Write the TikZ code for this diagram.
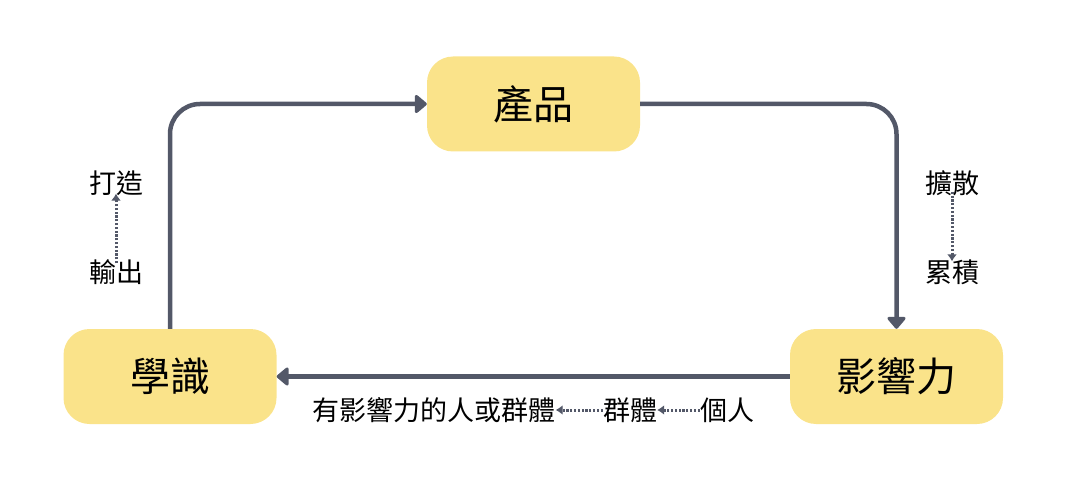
\documentclass[tikz,border=0pt]{standalone}
\usepackage{fontspec}
\newfontfamily\cjk{Noto Sans CJK TC}
\usetikzlibrary{arrows.meta}
\definecolor{boxfill}{HTML}{FAE38A}
\definecolor{linecol}{HTML}{535868}
\tikzset{
  box/.style={fill=boxfill, rounded corners=26pt, minimum width=213pt, minimum height=95pt, inner sep=0pt, font=\cjk\fontsize{40}{42}\selectfont, text=black},
  lab/.style={inner sep=0pt, font=\cjk\fontsize{27}{29}\selectfont, text=black},
  mainarrow/.style={draw=linecol, line width=4.5pt, rounded corners=30pt, -{Triangle[length=13pt,width=21pt,round]}},
  dotarrow/.style={draw=linecol, line width=3pt, dash pattern=on 2.2pt off 1.6pt, -{Latex[length=7pt,width=10pt]}}
}
\begin{document}
\begin{tikzpicture}[x=1pt,y=-1pt]
\useasboundingbox (0,0) rectangle (1066,492);
\node[box] (prod) at (533.5,104) {產品};
\node[box] (know) at (170,376.5) {學識};
\node[box] (infl) at (896.5,376.5) {影響力};

\draw[mainarrow] (know.north) |- (prod.west);
\draw[mainarrow] (prod.east) -| (infl.north);
\draw[mainarrow, rounded corners=0pt] (infl.west) -- (know.east);

\node[lab] (make) at (116,183) {打造};
\node[lab] (out) at (116,272) {輸出};
\draw[dotarrow] ([yshift=-4pt]out.north) -- ([yshift=2pt]make.south);

\node[lab] (spread) at (952,183) {擴散};
\node[lab] (accum) at (952,272) {累積};
\draw[dotarrow] ([yshift=4pt]spread.south) -- ([yshift=-2pt]accum.north);

\node[lab] (grp2) at (434,410) {有影響力的人或群體};
\node[lab] (grp) at (630,410) {群體};
\node[lab] (pers) at (727,410) {個人};
\draw[dotarrow] (pers.west) -- (grp.east);
\draw[dotarrow] (grp.west) -- (grp2.east);
\end{tikzpicture}
\end{document}
